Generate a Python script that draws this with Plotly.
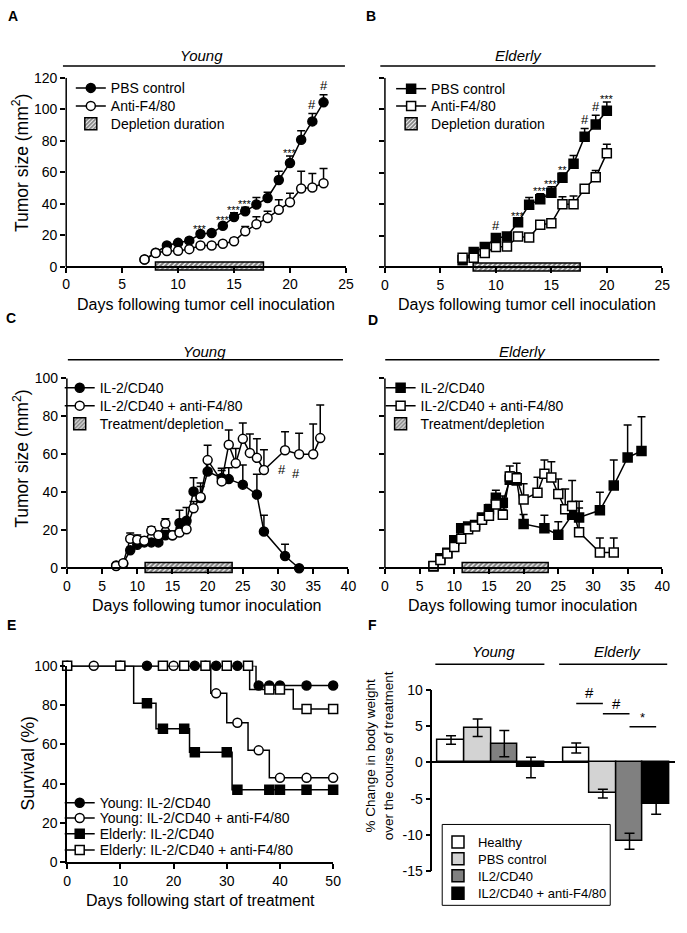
import plotly.graph_objects as go

# ---------------- Panel A : Young, PBS vs anti-F4/80 ----------------
days_A = [7, 8, 9, 10, 11, 12, 13, 14, 15, 16, 17, 18, 19, 20, 21, 22, 23]
pbs_A = [4.7, 8.9, 13.5, 15.2, 16.6, 20.8, 21.4, 26.0, 31.6, 35.3, 39.5, 43.7, 55.1, 65.9, 80.7, 92.3, 104.4]
pbs_A_err = [0.8, 1.0, 1.2, 1.3, 1.5, 1.6, 1.5, 1.8, 2.7, 2.5, 4.5, 3.7, 5.6, 4.4, 5.6, 5.0, 4.8]
anti_A = [4.6, 8.7, 10.0, 10.2, 11.2, 13.5, 13.5, 14.6, 16.2, 22.5, 27.0, 31.0, 36.2, 41.0, 49.7, 50.3, 53.0]
anti_A_err = [0.8, 1.0, 1.2, 1.2, 1.3, 1.4, 1.5, 1.6, 1.8, 3.0, 4.8, 4.2, 6.4, 5.7, 11.0, 9.0, 9.4]
depletion_A = [8.0, 17.7]
sig_days_A = [12, 14, 15, 16, 20, 22, 23]
sig_text_A = ["***", "***", "***", "***", "***", "#", "#"]

# ---------------- Panel B : Elderly, PBS vs anti-F4/80 ----------------
days_B = [7, 8, 9, 10, 11, 12, 13, 14, 15, 16, 17, 18, 19, 20]
pbs_B = [4.6, 9.8, 12.9, 18.6, 19.6, 28.6, 39.6, 43.1, 47.3, 56.7, 65.6, 82.7, 90.5, 99.2]
pbs_B_err = [0.8, 1.2, 1.5, 2.5, 1.5, 2.0, 4.6, 3.5, 3.7, 3.0, 5.2, 5.2, 5.8, 5.4]
anti_B = [6.2, 6.2, 9.2, 12.9, 13.2, 19.6, 19.0, 27.0, 28.0, 40.0, 40.0, 49.8, 57.1, 72.3]
anti_B_err = [0.8, 1.0, 1.2, 1.5, 1.5, 1.5, 1.5, 1.8, 2.0, 4.8, 5.2, 2.0, 4.3, 5.6]
depletion_B = [8.0, 17.7]
sig_days_B = [10, 12, 14, 15, 16, 18, 19, 20]
sig_text_B = ["#", "***", "***", "***", "**", "#", "#", "***"]

# ---------------- Panel C : Young, IL-2/CD40 +/- anti-F4/80 ----------------
days_C_il2 = [7, 8, 9, 10, 11, 12, 13, 14, 15, 16, 17, 18, 19, 20, 22, 23, 25, 27, 28, 31, 33]
il2_C = [1.4, 2.4, 9.5, 12.4, 13.6, 13.6, 13.6, 17.4, 17.4, 23.8, 25.0, 40.4, 37.0, 50.9, 47.5, 46.9, 44.0, 38.8, 19.3, 6.4, 0.0]
il2_C_err = [0.5, 0.8, 1.5, 2.0, 1.5, 1.5, 1.5, 2.5, 2.0, 6.7, 6.9, 7.2, 7.8, 6.0, 4.0, 6.0, 10.3, 10.7, 8.6, 6.2, 0.0]
days_C_anti = [7, 8, 9, 10, 11, 12, 13, 14, 15, 16, 17, 18, 19, 20, 22, 23, 24, 25, 26, 27, 28, 31, 33, 35, 36]
anti_C = [1.2, 2.6, 15.5, 15.0, 14.5, 19.8, 17.4, 23.5, 17.4, 18.8, 20.5, 31.6, 37.5, 56.9, 45.7, 65.0, 55.2, 68.1, 60.7, 58.1, 51.7, 62.1, 60.0, 60.0, 68.5]
anti_C_err = [0.5, 0.8, 3.0, 2.5, 2.0, 2.0, 2.0, 2.5, 2.0, 2.5, 2.5, 3.5, 5.5, 7.8, 6.9, 7.8, 7.8, 8.3, 10.0, 10.0, 10.7, 9.8, 11.0, 15.9, 17.4]
treatment_C = [11.2, 23.6]
sig_days_C = [31, 33]
sig_text_C = ["#", "#"]

# ---------------- Panel D : Elderly, IL-2/CD40 +/- anti-F4/80 ----------------
days_D_il2 = [7, 8, 9, 10, 11, 12, 13, 14, 15, 16, 17, 18, 19, 20, 23, 25, 27, 28, 31, 33, 35, 37]
il2_D = [0.9, 5.2, 8.1, 14.7, 21.0, 21.9, 22.8, 26.7, 31.0, 37.1, 34.5, 46.6, 46.2, 23.3, 21.0, 17.6, 28.1, 26.7, 30.5, 43.5, 58.3, 61.7]
il2_D_err = [0.5, 1.0, 1.2, 1.5, 1.5, 1.5, 2.0, 2.0, 2.5, 4.0, 3.5, 4.0, 4.0, 5.0, 6.9, 6.9, 7.0, 5.0, 9.5, 13.4, 17.1, 18.0]
days_D_anti = [7, 8, 9, 10, 11, 12, 13, 14, 15, 16, 17, 18, 19, 20, 22, 23, 24, 25, 26, 27, 28, 31, 33]
anti_D = [1.2, 4.3, 7.8, 11.2, 15.5, 20.5, 22.0, 25.5, 27.6, 33.6, 28.1, 48.3, 47.4, 36.2, 39.7, 49.7, 47.8, 39.1, 31.0, 32.8, 19.0, 8.3, 8.3]
anti_D_err = [0.5, 0.8, 1.0, 1.2, 1.5, 2.0, 2.0, 2.5, 2.5, 3.0, 3.0, 5.5, 7.8, 8.3, 8.2, 7.2, 8.2, 7.8, 10.7, 13.4, 16.3, 7.6, 7.6]
treatment_D = [11.2, 23.6]

# ---------------- Panel E : survival ----------------
surv_names = ["Young: IL-2/CD40", "Young: IL-2/CD40 + anti-F4/80",
              "Elderly: IL-2/CD40", "Elderly: IL-2/CD40 + anti-F4/80"]
surv_step_t = [[0, 35.5], [0, 27, 30, 34, 38], [0, 12.5, 16.7, 23, 31], [0, 34.3, 42.5]]
surv_step_s = [[100, 90], [100, 86, 71, 57, 43], [100, 81, 68, 56, 37], [100, 88, 78]]
surv_censor = [[15, 24, 26, 28, 32, 36, 38, 40, 45, 50],
               [0, 5, 10, 20, 28, 32, 36, 40, 45, 50],
               [15, 18, 22, 24, 30, 32, 38, 40, 45, 50],
               [0, 10, 18, 22, 26, 30, 34, 38, 40, 45, 50]]
surv_end = 50

# ---------------- Panel F : body weight ----------------
groups_F = ["Young", "Elderly"]
treat_F = ["Healthy", "PBS control", "IL2/CD40", "IL2/CD40 + anti-F4/80"]
vals_F = [[3.1, 2.0], [4.8, -4.3], [2.6, -10.9], [-0.7, -5.8]]
errs_F = [[0.6, 0.7], [1.2, 0.6], [1.8, 1.1], [1.4, 1.35]]
sig_pairs_F = [(0, 1), (1, 2), (2, 3)]
sig_heights_F = [8.15, 6.74, 4.93]
sig_text_F = ["#", "#", "*"]

# =====================================================================
FONT = "Liberation Sans, Arial, sans-serif"
W, H = 687, 933


def fx(p):
    return p / W


def fy(p):
    return 1 - p / H


fig = go.Figure()
shapes = []
annotations = []
legends = {}

tick_font = dict(family=FONT, size=14, color="black")
common = dict(showgrid=False, zeroline=False, ticks="outside", ticklen=5, tickwidth=1.5,
              tickcolor="black", linecolor="black", linewidth=1.5, tickfont=tick_font)


def new_legend(text_px, center_px, size):
    idx = len(legends) + 1
    key = "legend" if idx == 1 else "legend%d" % idx
    legends[key] = dict(x=fx(text_px - 40), y=fy(center_px), xanchor="left", yanchor="middle",
                        bgcolor="rgba(0,0,0,0)", borderwidth=0, itemwidth=30,
                        font=dict(family=FONT, size=size, color="black"))
    return key


def setup_growth_axes(n, xpx, top_px, zero_px, ymax, ymin, xmax, ydtick, ylabels):
    ppu = (zero_px - top_px) / ymax
    bottom_px = zero_px - ymin * ppu
    xa = "xaxis" if n == 1 else "xaxis%d" % n
    ya = "yaxis" if n == 1 else "yaxis%d" % n
    xn = "x" if n == 1 else "x%d" % n
    yn = "y" if n == 1 else "y%d" % n
    fig.update_layout(**{
        xa: dict(domain=[fx(xpx[0]), fx(xpx[1])], range=[0, xmax], anchor="free",
                 position=fy(zero_px), dtick=5, tick0=0, showline=True, **common),
        ya: dict(domain=[fy(bottom_px), fy(top_px)], range=[ymin, ymax], anchor=xn,
                 dtick=ydtick, tick0=0, showline=False, showticklabels=ylabels, **common),
    })
    shapes.append(dict(type="line", xref=xn + " domain", yref=yn, x0=0, x1=0, y0=0, y1=ymax,
                       line=dict(color="black", width=1.5)))
    return xn, yn


def add_series(xn, yn, x, y, err, symbol, fill, name, legend):
    fig.add_trace(go.Scatter(
        x=x, y=y, mode="lines+markers", name=name, legend=legend, xaxis=xn, yaxis=yn,
        line=dict(color="black", width=1.5), cliponaxis=False,
        marker=dict(symbol=symbol, size=9, color=fill, line=dict(color="black", width=1.5)),
        error_y=dict(type="data", array=err, arrayminus=[0] * len(err), symmetric=False,
                     color="black", thickness=1.5, width=4)))


def add_period(xn, yn, period, name, legend):
    fig.add_trace(go.Bar(
        x=[period[1] - period[0]], base=[period[0]], y=[0], width=[5.2], orientation="h",
        name=name, legend=legend, xaxis=xn, yaxis=yn,
        marker=dict(color="white", line=dict(color="black", width=1.5),
                    pattern=dict(shape="/", fgcolor="black", bgcolor="white", size=3.5, solidity=0.65))))


def add_sig(xn, yn, days, texts, xs, ys, errs, below=False):
    for d, t in zip(days, texts):
        i = xs.index(d)
        if below:
            yv, shift = ys[i], -19
        else:
            yv = ys[i] + errs[i]
            shift = 9 if t == "#" else 3
        annotations.append(dict(x=d, y=yv, xref=xn, yref=yn, text=t, showarrow=False,
                                yanchor="middle", yshift=shift, xshift=-3 if below else 0,
                                font=dict(family=FONT, size=13 if t == "#" else 11, color="black")))


# ---- A ----
xn, yn = setup_growth_axes(1, [63.3, 348], 71, 263.3, 120, -3, 25, 20, True)
add_series(xn, yn, days_A, pbs_A, pbs_A_err, "circle", "black", "PBS control", new_legend(108, 81.7, 14))
add_series(xn, yn, days_A, anti_A, anti_A_err, "circle", "white", "Anti-F4/80", new_legend(108, 100, 14))
add_period(xn, yn, depletion_A, "Depletion duration", new_legend(108, 118.3, 14))
add_sig(xn, yn, sig_days_A, sig_text_A, days_A, pbs_A, pbs_A_err)

# ---- B ----
xn, yn = setup_growth_axes(2, [387.7, 670], 71, 264, 120, -3, 25, 20, False)
add_series(xn, yn, days_B, pbs_B, pbs_B_err, "square", "black", "PBS control", new_legend(434, 82.5, 14))
add_series(xn, yn, days_B, anti_B, anti_B_err, "square", "white", "Anti-F4/80", new_legend(434, 100, 14))
add_period(xn, yn, depletion_B, "Depletion duration", new_legend(434, 118.3, 14))
add_sig(xn, yn, sig_days_B, sig_text_B, days_B, pbs_B, pbs_B_err)

# ---- C ----
xn, yn = setup_growth_axes(3, [64, 350.5], 376.7, 570, 100, -3, 40, 20, True)
add_series(xn, yn, days_C_il2, il2_C, il2_C_err, "circle", "black", "IL-2/CD40", new_legend(96.7, 386.7, 14))
add_series(xn, yn, days_C_anti, anti_C, anti_C_err, "circle", "white", "IL-2/CD40 + anti-F4/80",
           new_legend(96.7, 405, 14))
add_period(xn, yn, treatment_C, "Treatment/depletion", new_legend(96.7, 423.3, 14))
add_sig(xn, yn, sig_days_C, sig_text_C, days_C_anti, anti_C, anti_C_err, below=True)

# ---- D ----
xn, yn = setup_growth_axes(4, [387.7, 670], 376.7, 570, 100, -3, 40, 20, False)
add_series(xn, yn, days_D_il2, il2_D, il2_D_err, "square", "black", "IL-2/CD40", new_legend(423.3, 386.7, 14))
add_series(xn, yn, days_D_anti, anti_D, anti_D_err, "square", "white", "IL-2/CD40 + anti-F4/80",
           new_legend(423.3, 405, 14))
add_period(xn, yn, treatment_D, "Treatment/depletion", new_legend(423.3, 423.3, 14))

# ---- E ----
fig.update_layout(
    xaxis5=dict(domain=[fx(64.3), fx(335)], range=[0, 50], dtick=10, tick0=0, anchor="y5",
                showline=True, **common),
    yaxis5=dict(domain=[fy(869.3), fy(669.3)], range=[0, 100], dtick=20, tick0=0, anchor="x5",
                showline=True, **common),
)
surv_symbols = ["circle", "circle", "square", "square"]
surv_fills = ["black", "white", "black", "white"]
surv_legend_y = [809, 824.5, 840.5, 857]
for k in range(4):
    tx = surv_step_t[k] + [surv_end]
    sy = surv_step_s[k] + [surv_step_s[k][-1]]
    fig.add_trace(go.Scatter(x=tx, y=sy, mode="lines", line=dict(color="black", width=1.5, shape="hv"),
                             xaxis="x5", yaxis="y5", showlegend=False, cliponaxis=False))
    cy = []
    for c in surv_censor[k]:
        v = surv_step_s[k][0]
        for t, s in zip(surv_step_t[k], surv_step_s[k]):
            if t <= c:
                v = s
        cy.append(v)
    mk = dict(symbol=surv_symbols[k], size=9, color=surv_fills[k], line=dict(color="black", width=1.5))
    fig.add_trace(go.Scatter(x=surv_censor[k], y=cy, mode="markers", marker=mk, xaxis="x5", yaxis="y5",
                             showlegend=False, cliponaxis=False))
    fig.add_trace(go.Scatter(x=[None], y=[None], mode="lines+markers", marker=mk, name=surv_names[k],
                             line=dict(color="black", width=1.5), xaxis="x5", yaxis="y5",
                             legend=new_legend(96.7, surv_legend_y[k], 14)))

# ---- F ----
bar_colors = ["white", "#d3d3d3", "#808080", "black"]
group_step = 4.7
fig.update_layout(
    xaxis6=dict(domain=[fx(436), fx(683)], range=[-0.7, 8.41], anchor="y6", showline=False,
                showticklabels=False, ticks="", showgrid=False, zeroline=False),
    yaxis6=dict(domain=[fy(878), fy(694)], range=[-15, 10], anchor="x6", showline=True,
                tickvals=[-15, -10, -5, 0, 5, 10], ticktext=[str(v) for v in [-15, -10, -5, 0, 5, 10]],
                zeroline=True, zerolinecolor="black", zerolinewidth=1.5,
                showgrid=False, ticks="outside", ticklen=5, tickwidth=1.5, tickcolor="black",
                linecolor="black", linewidth=1.5, tickfont=tick_font),
)
bar_legend_y = [848.7, 865.7, 883, 900.7]
for i, t in enumerate(treat_F):
    xs = [g * group_step + i for g in range(len(groups_F))]
    fig.add_trace(go.Bar(x=xs, y=vals_F[i], width=1, name=t, legend=new_legend(481.7, bar_legend_y[i], 13),
                         xaxis="x6", yaxis="y6",
                         marker=dict(color=bar_colors[i], line=dict(color="black", width=1.5)),
                         error_y=dict(type="data", array=errs_F[i], symmetric=True, color="black",
                                      thickness=1.5, width=5)))
shapes.append(dict(type="rect", xref="paper", yref="paper", x0=fx(446), x1=fx(617), y0=fy(913), y1=fy(830.7),
                   line=dict(color="black", width=1), fillcolor="rgba(0,0,0,0)"))
for (a, b), h, t in zip(sig_pairs_F, sig_heights_F, sig_text_F):
    xa_ = group_step + a
    xb_ = group_step + b
    shapes.append(dict(type="line", xref="x6", yref="y6", x0=xa_, x1=xb_, y0=h, y1=h,
                       line=dict(color="black", width=1.5)))
    annotations.append(dict(x=(xa_ + xb_) / 2, y=h, xref="x6", yref="y6", text=t, showarrow=False,
                            yanchor="bottom", yshift=0,
                            font=dict(family=FONT, size=15 if t == "#" else 13, color="black")))

# ---- headings (group lines + italic labels) ----
headings = [("Young", 200.8, 48, 60, 347, 59), ("Elderly", 524, 48, 383, 663, 59),
            ("Young", 204, 350, 65, 345, 358), ("Elderly", 527.5, 350, 388, 667, 358),
            ("Young", 498, 655, 439, 550, 667.7), ("Elderly", 624, 655, 565, 675, 667.7)]
for txt, cx, cy_, l0, l1, ly in headings:
    annotations.append(dict(x=fx(cx), y=fy(cy_), xref="paper", yref="paper", text="<i>%s</i>" % txt,
                            showarrow=False, xanchor="center", yanchor="middle",
                            font=dict(family=FONT, size=15, color="black")))
    shapes.append(dict(type="line", xref="paper", yref="paper", x0=fx(l0), x1=fx(l1), y0=fy(ly), y1=fy(ly),
                       line=dict(color="black", width=1.5)))

# ---- panel letters ----
for letter, cx, cy_ in [("A", 9, 8), ("B", 374, 8), ("C", 7, 315), ("D", 376, 317), ("E", 8, 628), ("F", 375, 628)]:
    annotations.append(dict(x=fx(cx), y=fy(cy_), xref="paper", yref="paper", text="<b>%s</b>" % letter,
                            showarrow=False, xanchor="center", yanchor="middle",
                            font=dict(family=FONT, size=14, color="black")))

# ---- axis titles ----
xtitles = [("Days following tumor cell inoculation", 206, 302), ("Days following tumor cell inoculation", 532, 302),
           ("Days following tumor inoculation", 206, 608), ("Days following tumor inoculation", 528, 608),
           ("Days following start of treatment", 200, 908)]
for txt, cx, cy_ in xtitles:
    annotations.append(dict(x=fx(cx), y=fy(cy_), xref="paper", yref="paper", text=txt, showarrow=False,
                            xanchor="center", yanchor="middle", font=dict(family=FONT, size=16, color="black")))
ytitles = [("Tumor size (mm<sup>2</sup>)", 17, 158, 17.5), ("Tumor size (mm<sup>2</sup>)", 17, 459, 17.5),
           ("Survival (%)", 24, 769, 17.5),
           ("% Change in body weight<br>over the course of treatment", 383, 761, 13.5)]
for txt, cx, cy_, sz in ytitles:
    annotations.append(dict(x=fx(cx), y=fy(cy_), xref="paper", yref="paper", text=txt, showarrow=False,
                            textangle=-90, xanchor="center", yanchor="middle",
                            font=dict(family=FONT, size=sz, color="black")))

fig.update_layout(
    width=W, height=H, margin=dict(l=0, r=0, t=0, b=0),
    paper_bgcolor="white", plot_bgcolor="white",
    font=dict(family=FONT, color="black"),
    barmode="overlay", bargap=0,
    shapes=shapes, annotations=annotations,
    **legends,
)

fig.write_html("out.html", config={"displayModeBar": False},
               post_script="document.body.style.margin='0px';")
